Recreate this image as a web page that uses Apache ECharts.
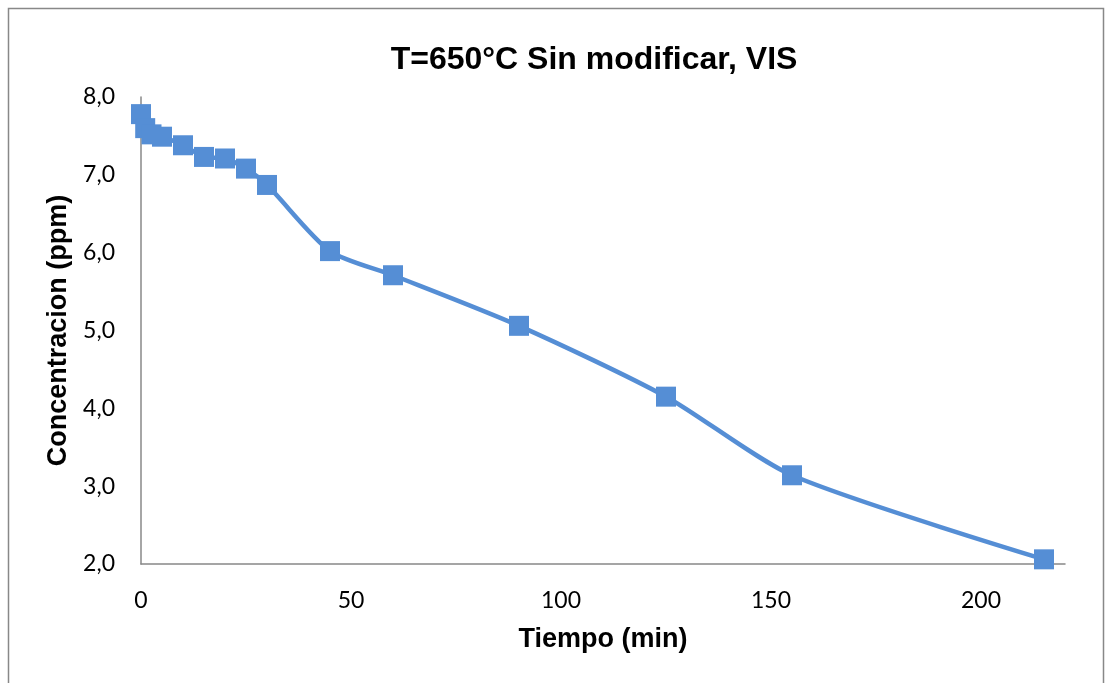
<!DOCTYPE html>
<html>
<head>
<meta charset="utf-8">
<script src="https://cdn.jsdelivr.net/npm/echarts@6/dist/echarts.min.js"></script>
<style>
html,body{margin:0;padding:0;background:#fff;}
#chart{width:1114px;height:683px;}
</style>
</head>
<body>
<div id="chart"></div>
<script>
var titleText = 'T=650°C Sin modificar, VIS';
var xAxisName = 'Tiempo (min)';
var yAxisName = 'Concentracion (ppm)';
var tiempo = [0, 1, 2.5, 5, 10, 15, 20, 25, 30, 45, 60, 90, 125, 155, 215];
var concentracion = [7.78, 7.60, 7.52, 7.49, 7.38, 7.23, 7.21, 7.08, 6.87, 6.02, 5.71, 5.06, 4.15, 3.14, 2.06];
var xTicks = [0, 50, 100, 150, 200];

var data = tiempo.map(function (t, i) { return [t, concentracion[i]]; });

var chart = echarts.init(document.getElementById('chart'));
chart.setOption({
  animation: false,
  backgroundColor: '#fff',
  title: {
    text: titleText,
    left: 589, top: 39, textAlign: 'center',
    textStyle: { fontFamily: 'Liberation Sans', fontWeight: 'bold', fontSize: 32, color: '#000' }
  },
  graphic: [{
    type: 'rect', shape: { x: 8.5, y: 8.5, width: 1095, height: 700 },
    style: { fill: 'none', stroke: '#888', lineWidth: 1.5 }, silent: true
  }],
  grid: { left: 141, top: 97, right: 49, bottom: 119 },
  xAxis: {
    type: 'value', min: 0, max: 220, interval: 50,
    name: xAxisName, nameLocation: 'middle', nameGap: 62,
    nameTextStyle: { fontFamily: 'Liberation Sans', fontWeight: 'bold', fontSize: 27, color: '#000' },
    axisLine: { show: true, lineStyle: { color: '#888', width: 1.5 } },
    axisTick: { show: false },
    splitLine: { show: false },
    axisLabel: {
      margin: 25, fontFamily: 'Lato', fontSize: 23, color: '#000',
      showMaxLabel: false,
      formatter: function (v) { return xTicks.indexOf(v) >= 0 ? String(v) : ''; }
    }
  },
  yAxis: {
    type: 'value', min: 2, max: 8, interval: 1,
    name: yAxisName, nameLocation: 'middle', nameGap: 68, nameRotate: 90,
    nameTextStyle: { fontFamily: 'Liberation Sans', fontWeight: 'bold', fontSize: 27, color: '#000' },
    axisLine: { show: true, lineStyle: { color: '#888', width: 1.5 } },
    axisTick: { show: false },
    splitLine: { show: false },
    axisLabel: {
      margin: 26, fontFamily: 'Lato', fontSize: 23, color: '#000',
      formatter: function (v) { return v.toFixed(1).replace('.', ','); }
    }
  },
  series: [{
    type: 'line', data: data, smooth: 0.25,
    symbol: 'rect', symbolSize: 20, showAllSymbol: true,
    lineStyle: { color: '#558ED5', width: 4.5 },
    itemStyle: { color: '#558ED5' },
    clip: false
  }]
});
</script>
</body>
</html>
